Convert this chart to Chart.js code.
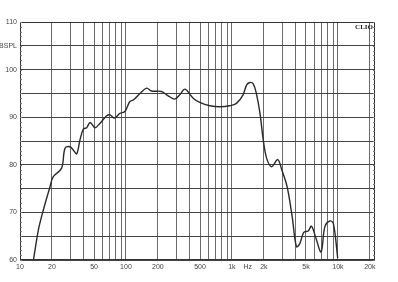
<!DOCTYPE html>
<html>
<head>
<meta charset="utf-8">
<script src="https://cdn.jsdelivr.net/npm/chart.js@4/dist/chart.umd.min.js"></script>
<style>
  html, body { margin: 0; padding: 0; background: #fff; }
  #wrap { width: 398px; height: 282px; }
</style>
</head>
<body>
<div id="wrap"><canvas id="chart"></canvas></div>
<script>
// Frequency response (Hz, dB SPL)
var freqHz = [13.4, 14.9, 16.6, 19.2, 20.6, 24.7, 26.6, 29.6, 31.8, 34.3, 36.8, 39.6, 42.6, 45.9,
  51.0, 56.8, 65.8, 70.8, 77.7, 87.6, 97.8, 108.8, 117.3, 135.6, 156.7, 174.2, 216.4, 250, 289,
  322, 360, 431, 497, 620, 770, 951, 1104, 1274, 1378, 1480, 1590, 1700, 1840, 1977, 2131, 2373,
  2707, 2960, 3318, 3702, 4063, 4360, 4764, 5240, 5640, 6200, 6940, 7537, 8400, 9060, 9970];
var splDb = [60.0, 66.3, 70.5, 75.4, 77.5, 79.3, 83.5, 83.8, 83.1, 82.3, 85.2, 87.5, 87.8, 88.9,
  87.8, 88.7, 90.3, 90.5, 89.8, 90.8, 91.2, 93.3, 93.6, 95.0, 96.1, 95.5, 95.4, 94.5, 93.8,
  94.7, 95.9, 94.0, 93.1, 92.4, 92.2, 92.4, 92.9, 94.7, 96.8, 97.3, 97.0, 95.0, 90.8, 85.2, 81.3, 79.6,
  81.1, 78.9, 75.4, 69.1, 62.8, 63.4, 65.8, 66.1, 67.1, 64.6, 61.7, 67.0, 68.2, 67.7, 60.4];

// Axis ticks
var xGrid = [10, 20, 30, 40, 50, 60, 70, 80, 90, 100, 200, 300, 400, 500, 600, 700, 800, 900,
  1000, 1410, 2000, 3000, 4000, 5000, 6000, 7000, 8000, 9000, 10000, 20000];
var xLabels = { 10: '10', 20: '20', 50: '50', 100: '100', 200: '200', 500: '500', 1000: '1k',
  1410: 'Hz', 2000: '2k', 5000: '5k', 10000: '10k', 20000: '20k' };
var yGrid = [60, 65, 70, 75, 80, 85, 90, 95, 100, 105, 110];
var yLabels = { 60: '60', 70: '70', 80: '80', 90: '90', 100: '100', 105: 'dBSPL', 110: '110' };

var points = freqHz.map(function (f, i) { return { x: f, y: splDb[i] }; });

// Frame, minor ticks on the side borders and the CLIO tag
var framePlugin = {
  id: 'frame',
  afterDraw: function (chart) {
    var ctx = chart.ctx, a = chart.chartArea, y = chart.scales.y;
    ctx.save();
    ctx.strokeStyle = '#333';
    ctx.lineWidth = 1;
    ctx.strokeRect(a.left + 0.5, a.top + 0.5, a.right - a.left - 1, a.bottom - a.top - 1);
    ctx.strokeStyle = '#777';
    ctx.beginPath();
    for (var v = 60; v <= 110; v++) {
      var py = Math.round(y.getPixelForValue(v)) + 0.5;
      ctx.moveTo(a.left, py); ctx.lineTo(a.left + 2, py);
      ctx.moveTo(a.right - 2, py); ctx.lineTo(a.right, py);
    }
    ctx.stroke();
    ctx.fillStyle = '#222';
    ctx.font = 'bold 7px "Liberation Serif", serif';
    ctx.textAlign = 'right';
    ctx.textBaseline = 'top';
    ctx.fillText('CLIO', a.right - 2, a.top + 2);
    ctx.restore();
  }
};

new Chart(document.getElementById('chart'), {
  type: 'scatter',
  data: {
    datasets: [{
      data: points,
      showLine: true,
      borderColor: '#2a2a2a',
      borderWidth: 1.4,
      pointRadius: 0,
      tension: 0.35
    }]
  },
  options: {
    responsive: true,
    maintainAspectRatio: false,
    animation: false,
    layout: { padding: { top: 22, right: 23, left: 0, bottom: 0 } },
    plugins: { legend: { display: false }, tooltip: { enabled: false } },
    scales: {
      x: {
        type: 'logarithmic',
        min: 10,
        max: 22400,
        afterBuildTicks: function (s) { s.ticks = xGrid.map(function (v) { return { value: v }; }); },
        afterFit: function (s) { s.height = 22; },
        border: { display: false },
        grid: {
          color: function (c) { return c.tick && c.tick.value === 1410 ? 'rgba(0,0,0,0)' : '#6a6a6a'; },
          lineWidth: 1,
          tickLength: 0
        },
        ticks: {
          autoSkip: false,
          maxRotation: 0,
          padding: 3,
          color: '#444',
          font: { family: '"Liberation Sans", Arial, sans-serif', size: 7 },
          callback: function (v) { return xLabels[v] || ''; }
        }
      },
      y: {
        min: 60,
        max: 110,
        afterBuildTicks: function (s) { s.ticks = yGrid.map(function (v) { return { value: v }; }); },
        afterFit: function (s) { s.width = 20; },
        border: { display: false },
        grid: { color: '#444', lineWidth: 1, tickLength: 0 },
        ticks: {
          padding: 3,
          color: '#444',
          font: { family: '"Liberation Sans", Arial, sans-serif', size: 7 },
          callback: function (v) { return yLabels[v] || ''; }
        }
      }
    }
  },
  plugins: [framePlugin]
});
</script>
</body>
</html>
